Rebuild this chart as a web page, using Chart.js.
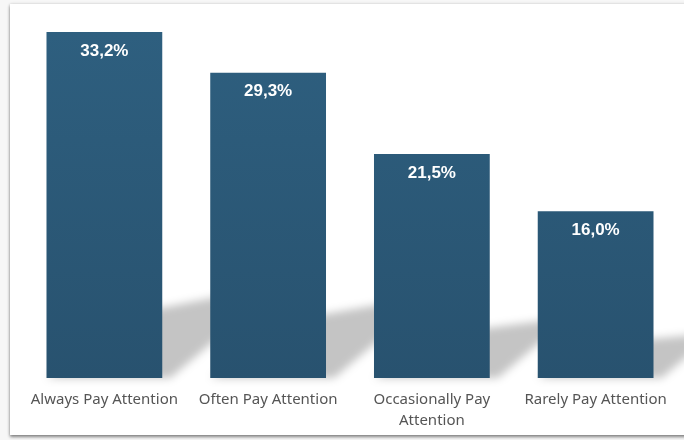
<!DOCTYPE html>
<html>
<head>
<meta charset="utf-8">
<script src="https://cdn.jsdelivr.net/npm/chart.js@4.4.1/dist/chart.umd.min.js"></script>
<style>
  html, body { margin: 0; padding: 0; background: #f7f7f7; }
  #panel {
    position: absolute; left: 10px; top: 4px; width: 700px; height: 431px;
    background: #fff;
    box-shadow: 0 2px 3px rgba(0,0,0,0.45), 0 0 3px rgba(0,0,0,0.15);
  }
  #wrap { position: absolute; left: 0; top: 0; width: 684px; height: 440px; }
</style>
</head>
<body>
<div id="panel"></div>
<div id="wrap"><canvas id="chart" width="684" height="440"></canvas></div>
<script>
// categories and values (percent)
const categories = [
  "Always Pay Attention",
  "Often Pay Attention",
  ["Occasionally Pay", "Attention"],
  "Rarely Pay Attention"
];
const shares = [33.2, 29.3, 21.5, 16.0];

const fmt = v => v.toFixed(1).replace(".", ",") + "%";

// soft slanted floor shadow behind each bar
const floorShadow = {
  id: "floorShadow",
  beforeDatasetsDraw(chart) {
    const { ctx } = chart;
    const meta = chart.getDatasetMeta(0);
    ctx.save();
    ctx.filter = "blur(4px)";
    ctx.fillStyle = "rgba(0,0,0,0.23)";
    meta.data.forEach(bar => {
      const L = bar.x - bar.width / 2, R = bar.x + bar.width / 2;
      const base = bar.base, h = bar.base - bar.y;
      const dx = h * 0.32, dy = h * 0.27;
      ctx.beginPath();
      ctx.moveTo(L, base);
      ctx.lineTo(R + 8, base);
      ctx.lineTo(R + 8 + dx, base - dy);
      ctx.lineTo(L + dx, base - dy + h * 0.07);
      ctx.closePath();
      ctx.fill();
    });
    ctx.restore();
  }
};

// value labels inside the top of each bar
const topLabels = {
  id: "topLabels",
  afterDatasetsDraw(chart) {
    const { ctx } = chart;
    const meta = chart.getDatasetMeta(0);
    ctx.save();
    ctx.fillStyle = "#ffffff";
    ctx.font = "bold 17px 'Liberation Sans', Arial, sans-serif";
    ctx.textAlign = "center";
    ctx.textBaseline = "middle";
    meta.data.forEach((bar, i) => {
      ctx.fillText(fmt(shares[i]), bar.x, bar.y + 19);
    });
    ctx.restore();
  }
};

const barFill = (context) => {
  const area = context.chart.chartArea;
  if (!area) return "#2b5a78";
  const g = context.chart.ctx.createLinearGradient(0, area.top, 0, area.bottom);
  g.addColorStop(0, "#2e5f7f");
  g.addColorStop(1, "#28526f");
  return g;
};

new Chart(document.getElementById("chart"), {
  type: "bar",
  data: {
    labels: categories,
    datasets: [{
      data: shares,
      backgroundColor: barFill,
      borderWidth: 0,
      barPercentage: 0.707,
      categoryPercentage: 1.0
    }]
  },
  options: {
    responsive: false,
    animation: false,
    layout: { padding: { left: 22.5, right: 6.5, top: 32, bottom: 0 } },
    plugins: { legend: { display: false }, tooltip: { enabled: false } },
    scales: {
      x: {
        grid: { display: false, drawTicks: false },
        border: { display: false },
        ticks: {
          color: "#555555",
          padding: 12,
          font: { family: "'Noto Sans', 'Open Sans', sans-serif", size: 15, lineHeight: 1.35 }
        },
        afterFit: s => { s.height = 62; }
      },
      y: { display: false, min: 0, max: 33.2 }
    }
  },
  plugins: [floorShadow, topLabels]
});
</script>
</body>
</html>
